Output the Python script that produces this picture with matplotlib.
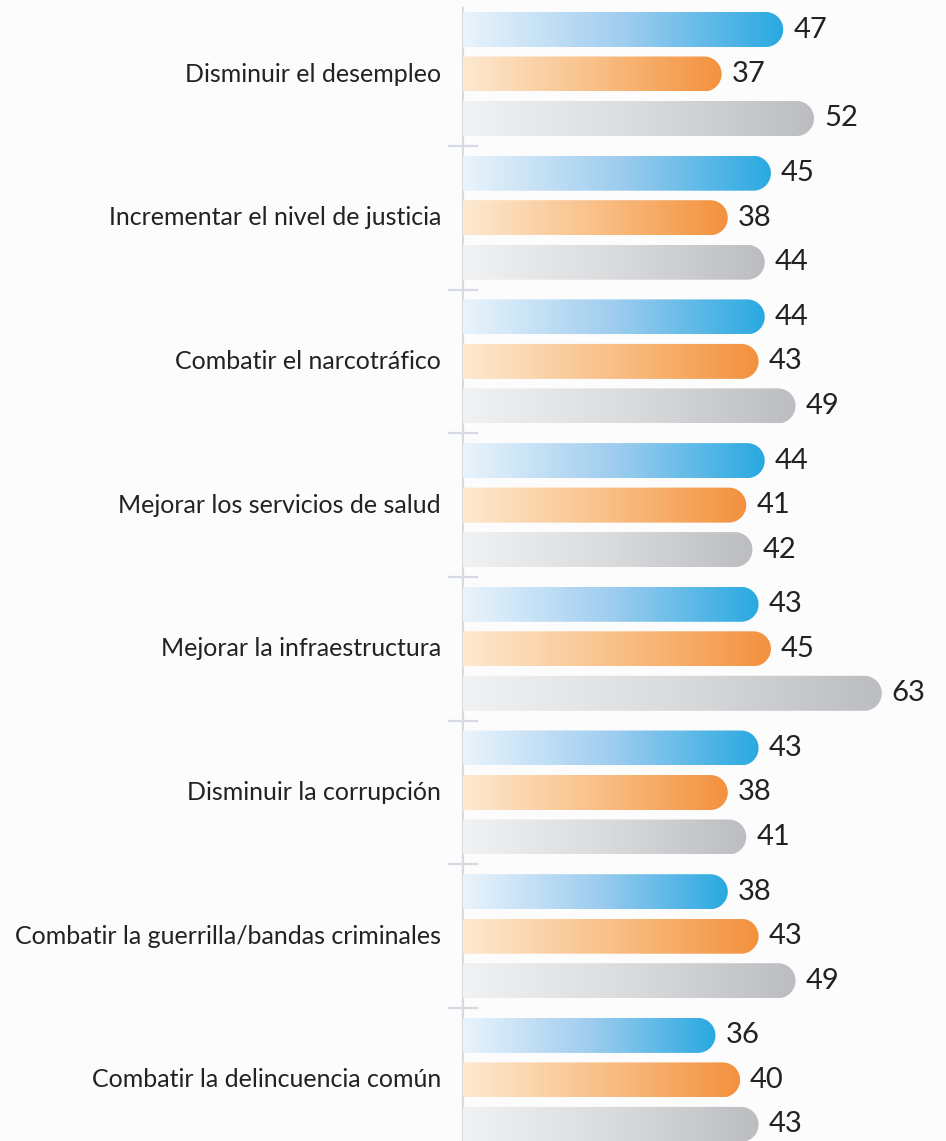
import numpy as np
import matplotlib
matplotlib.use("Agg")
import matplotlib.pyplot as plt
from matplotlib.patches import Polygon
from matplotlib.colors import LinearSegmentedColormap

categories = ["Disminuir el desempleo", "Incrementar el nivel de justicia",
              "Combatir el narcotráfico", "Mejorar los servicios de salud",
              "Mejorar la infraestructura", "Disminuir la corrupción",
              "Combatir la guerrilla/bandas criminales", "Combatir la delincuencia común"]
blue = [47, 45, 44, 44, 43, 43, 38, 36]
orange = [37, 38, 43, 41, 45, 38, 43, 40]
gray = [52, 44, 49, 42, 63, 41, 49, 43]

W, H, DPI = 946, 1141, 100
BASE = -5                       # bars start at the axis line
PX_PER_UNIT = 6.16
X0_PX = 493.7                   # pixel of value 0
xlim = (-X0_PX / PX_PER_UNIT, (W - X0_PX) / PX_PER_UNIT)
GROUP_PX = 143.7
Y0_PX = 74
ylim = (-Y0_PX / GROUP_PX, (H - Y0_PX) / GROUP_PX)   # top, bottom in group units

bar_h = 35 / GROUP_PX
offs = [-44.5 / GROUP_PX, 0, 44.5 / GROUP_PX]
rx = (bar_h / 2) * GROUP_PX / PX_PER_UNIT            # round cap radius in x units

series = [
    (blue, ["#eaf4fc", "#9fcdef", "#29a9e1"]),
    (orange, ["#fde9d0", "#f9c088", "#f3913d"]),
    (gray, ["#f1f2f3", "#dadbdd", "#bcbdc0"]),
]

fig = plt.figure(figsize=(W / DPI, H / DPI), dpi=DPI, facecolor="#fcfcfc")
ax = fig.add_axes([0, 0, 1, 1])
ax.set_facecolor("#fcfcfc")
ax.set_xlim(*xlim)
ax.set_ylim(ylim[1], ylim[0])
ax.axis("off")

grad = np.linspace(0, 1, 256).reshape(1, -1)
t = np.linspace(-np.pi / 2, np.pi / 2, 40)
for k, (vals, cols) in enumerate(series):
    cmap = LinearSegmentedColormap.from_list(f"c{k}", cols)
    for i, v in enumerate(vals):
        yc = i + offs[k]
        x1 = v
        xs = [BASE] + list(x1 - rx + rx * np.cos(t)) + [BASE]
        ys = [yc - bar_h / 2] + list(yc + bar_h / 2 * np.sin(t)) + [yc + bar_h / 2]
        poly = Polygon(np.column_stack([xs, ys]), closed=True, fc="none", ec="none")
        ax.add_patch(poly)
        im = ax.imshow(grad, cmap=cmap, aspect="auto", interpolation="bilinear",
                       extent=(BASE, x1, yc + bar_h / 2, yc - bar_h / 2), zorder=2)
        im.set_clip_path(poly)
        ax.text(x1 + 10 / PX_PER_UNIT, yc, str(v), ha="left", va="center",
                fontsize=21, color="#222222", family="Lato", zorder=3)

# axis line and ticks
ax.plot([BASE, BASE], [ylim[0] + 8 / GROUP_PX, ylim[1]], color="#d6dae2", lw=1.6, zorder=1)
tick_w = 14 / PX_PER_UNIT
for i in range(1, len(categories)):
    ax.plot([BASE - tick_w, BASE + tick_w], [i - 0.5, i - 0.5], color="#d6dae2", lw=1.6, zorder=1)

for i, c in enumerate(categories):
    ax.text(BASE - 22 / PX_PER_UNIT, i, c, ha="right", va="center",
            fontsize=18, color="#222222", family="Lato")

ax.set_ylim(ylim[1], ylim[0])
ax.set_xlim(*xlim)
fig.savefig("out.png", dpi=DPI, facecolor=fig.get_facecolor())
